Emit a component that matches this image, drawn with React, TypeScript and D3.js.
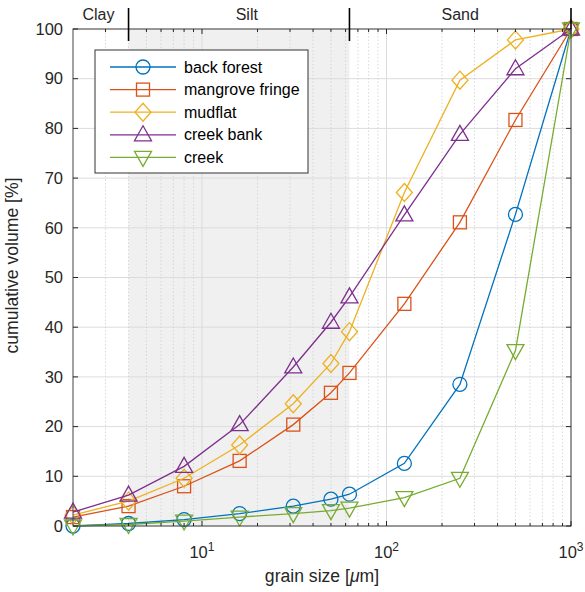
import React from 'react';
import * as d3 from 'd3';

const grainSizes = [2, 4, 8, 16, 31.25, 50, 63, 125, 250, 500, 1000];

const backForest = [0, 0.5, 1.3, 2.5, 4, 5.4, 6.4, 12.6, 28.5, 62.7, 100];
const mangroveFringe = [1.8, 4, 8, 13.1, 20.4, 26.8, 30.8, 44.7, 61.1, 81.7, 100];
const mudflat = [2.2, 5, 9.6, 16.3, 24.6, 32.7, 39.1, 67.1, 89.7, 97.8, 100];
const creekBank = [2.8, 6.2, 12, 20.4, 32, 41, 46.1, 62.6, 78.8, 92, 100];
const creek = [0, 0.3, 1, 1.8, 2.5, 3.1, 3.6, 5.7, 9.6, 35.3, 100];

const seriesNames = ['back forest', 'mangrove fringe', 'mudflat', 'creek bank', 'creek'];
const seriesColors = ['#0072BD', '#D95319', '#EDB120', '#7E2F8E', '#77AC30'];
const seriesMarkers = ['circle', 'square', 'diamond', 'triangle', 'triangleDown'];

const yTicks = [0, 10, 20, 30, 40, 50, 60, 70, 80, 90, 100];
const xMajorTicks = [10, 100, 1000];
const xMinorTicks = [3, 4, 5, 6, 7, 8, 9, 20, 30, 40, 50, 60, 70, 80, 90, 200, 300, 400, 500, 600, 700, 800, 900];

const classBounds = [4, 63, 1000];
const classLabels = [
  { name: 'Clay', at: 2.75 },
  { name: 'Silt', at: 17.5 },
  { name: 'Sand', at: 251 },
];

const width = 585;
const height = 592;
const margin = { top: 29, right: 14, bottom: 66, left: 73 };
const font = 'Liberation Sans, Arial, Helvetica, sans-serif';

function Marker({ type, x, y, color }: { type: string; x: number; y: number; color: string }) {
  const common = { fill: 'none', stroke: color, strokeWidth: 1.3 };
  if (type === 'circle') return <circle cx={x} cy={y} r={7} {...common} />;
  if (type === 'square') return <rect x={x - 6.5} y={y - 6.5} width={13} height={13} {...common} />;
  if (type === 'diamond')
    return <path d={`M${x},${y - 9}L${x + 8},${y}L${x},${y + 9}L${x - 8},${y}Z`} {...common} />;
  if (type === 'triangle')
    return <path d={`M${x},${y - 9}L${x + 8.5},${y + 6}L${x - 8.5},${y + 6}Z`} {...common} />;
  return <path d={`M${x},${y + 9}L${x + 8.5},${y - 6}L${x - 8.5},${y - 6}Z`} {...common} />;
}

export default function App() {
  const innerW = width - margin.left - margin.right;
  const innerH = height - margin.top - margin.bottom;
  const x = d3.scaleLog().domain([2, 1000]).range([0, innerW]);
  const y = d3.scaleLinear().domain([0, 100]).range([innerH, 0]);

  const series = [backForest, mangroveFringe, mudflat, creekBank, creek];
  const line = d3
    .line<number>()
    .x((_, i) => x(grainSizes[i]))
    .y((d) => y(d));

  const axisColor = '#262626';
  const isDecade = (t: number) => Math.abs(Math.log10(t) % 1) < 1e-9;

  return (
    <svg width={width} height={height} style={{ position: 'absolute', left: 0, top: 0, background: '#fff' }}>
      <g transform={`translate(${margin.left},${margin.top})`} fontFamily={font}>
        {/* silt band */}
        <rect x={x(classBounds[0])} y={0} width={x(classBounds[1]) - x(classBounds[0])} height={innerH} fill="#f0f0f0" />

        {/* grid */}
        {yTicks.map((t) => (
          <line key={'gy' + t} x1={0} x2={innerW} y1={y(t)} y2={y(t)} stroke="#dcdcdc" strokeWidth={1} />
        ))}
        {xMinorTicks.map((t) => (
          <line key={'gxm' + t} x1={x(t)} x2={x(t)} y1={0} y2={innerH} stroke="#cfcfcf" strokeWidth={0.8} strokeDasharray="1.5,2" />
        ))}
        {xMajorTicks.map((t) => (
          <line key={'gx' + t} x1={x(t)} x2={x(t)} y1={0} y2={innerH} stroke="#dcdcdc" strokeWidth={1} />
        ))}

        {/* series */}
        {series.map((vals, si) => (
          <g key={seriesNames[si]}>
            <path d={line(vals) || ''} fill="none" stroke={seriesColors[si]} strokeWidth={1.3} />
            {vals.map((v, i) => (
              <Marker key={i} type={seriesMarkers[si]} x={x(grainSizes[i])} y={y(v)} color={seriesColors[si]} />
            ))}
          </g>
        ))}

        {/* frame */}
        <rect x={0} y={0} width={innerW} height={innerH} fill="none" stroke="#444" strokeWidth={1} />

        {/* ticks */}
        {yTicks.map((t) => (
          <g key={'ty' + t}>
            <line x1={0} x2={5} y1={y(t)} y2={y(t)} stroke={axisColor} />
            <line x1={innerW - 5} x2={innerW} y1={y(t)} y2={y(t)} stroke={axisColor} />
            <text x={-10} y={y(t)} dy="0.35em" textAnchor="end" fontSize={16.5} fill={axisColor}>
              {t}
            </text>
          </g>
        ))}
        {[...xMinorTicks, ...xMajorTicks].map((t) => (
          <g key={'tx' + t}>
            <line x1={x(t)} x2={x(t)} y1={innerH} y2={innerH - (isDecade(t) ? 5 : 3)} stroke={axisColor} />
            <line x1={x(t)} x2={x(t)} y1={0} y2={isDecade(t) ? 5 : 3} stroke={axisColor} />
          </g>
        ))}
        {xMajorTicks.map((t) => (
          <text key={'lx' + t} x={x(t)} y={innerH + 32} textAnchor="middle" fontSize={16.5} fill={axisColor}>
            10
            <tspan dy={-7} fontSize={12}>
              {Math.round(Math.log10(t))}
            </tspan>
          </text>
        ))}

        {/* class boundaries */}
        {classBounds.map((b) => (
          <line key={'cb' + b} x1={x(b)} x2={x(b)} y1={-21} y2={b === 1000 ? 0 : 12} stroke="#000" strokeWidth={1.6} />
        ))}
        {classLabels.map((c) => (
          <text key={c.name} x={x(c.at)} y={-9} textAnchor="middle" fontSize={16} fill={axisColor}>
            {c.name}
          </text>
        ))}

        {/* axis labels */}
        <text x={innerW / 2} y={innerH + 56} textAnchor="middle" fontSize={17.6} fill={axisColor}>
          grain size [<tspan fontStyle="italic">μ</tspan>m]
        </text>
        <text
          transform={`translate(${-55},${innerH / 2 - 12}) rotate(-90)`}
          textAnchor="middle"
          fontSize={17.6}
          fill={axisColor}
        >
          cumulative volume [%]
        </text>

        {/* legend */}
        <g transform={`translate(${95 - margin.left},${50 - margin.top})`}>
          <rect x={0} y={0} width={213} height={123} fill="#fff" stroke="#333" strokeWidth={1} />
          {seriesNames.map((name, i) => {
            const ly = 17 + i * 22.6;
            return (
              <g key={'lg' + name}>
                <line x1={15} x2={81} y1={ly} y2={ly} stroke={seriesColors[i]} strokeWidth={1.3} />
                <Marker type={seriesMarkers[i]} x={48} y={ly} color={seriesColors[i]} />
                <text x={89} y={ly} dy="0.35em" fontSize={16} fill="#000">
                  {name}
                </text>
              </g>
            );
          })}
        </g>
      </g>
    </svg>
  );
}
